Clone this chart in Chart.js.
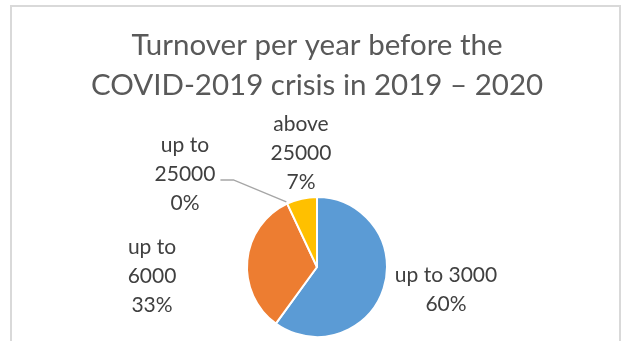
<!DOCTYPE html>
<html>
<head>
<meta charset="utf-8">
<script src="https://cdn.jsdelivr.net/npm/chart.js@4/dist/chart.umd.min.js"></script>
<style>
  body { margin: 0; background: #fff; }
  #marco {
    position: absolute; left: 10px; top: 5px; width: 611px; height: 400px;
    border: 2px solid #d9d9d9; box-sizing: border-box;
  }
  #grafico { position: absolute; left: 0; top: 0; }
</style>
</head>
<body>
<div id="marco"></div>
<canvas id="grafico" width="626" height="341"></canvas>
<script>
// Datos
const titulo = ["Turnover per year before the", "COVID-2019 crisis in 2019 \u2013 2020"];
const categorias = ["up to 3000", "up to 6000", "up to 25000", "above 25000"];
const valores = [60, 33, 0, 7];
const colores = ["#5B9BD5", "#ED7D31", "#A5A5A5", "#FFC000"];

const fuente = "Lato, 'Open Sans', sans-serif";

// Donde va cada etiqueta, en radios desde el centro del pastel
const posiciones = [
  { dx: 1.843, dy: 0.32, partir: false },
  { dx: -2.357, dy: 0.13, partir: true },
  { dx: -1.886, dy: -1.33, partir: true },
  { dx: -0.229, dy: -1.62, partir: true }
];

// Plugin para escribir las etiquetas de cada porcion
const etiquetas = {
  id: "etiquetas",
  afterDatasetsDraw(chart, args, opts) {
    const ctx = chart.ctx;
    const arcos = chart.getDatasetMeta(0).data;
    const total = valores.reduce((a, b) => a + b, 0);
    const alto = 29;

    ctx.save();
    ctx.font = "21px " + fuente;
    ctx.fillStyle = "#404040";
    ctx.textAlign = "center";
    ctx.textBaseline = "middle";

    arcos.forEach((arco, i) => {
      const { x, y, outerRadius, startAngle, endAngle } =
        arco.getProps(["x", "y", "outerRadius", "startAngle", "endAngle"], true);
      const pos = posiciones[i];
      const cx = x + pos.dx * outerRadius;
      const cy = y + pos.dy * outerRadius;

      let lineas;
      if (pos.partir) {
        const corte = categorias[i].lastIndexOf(" ");
        lineas = [categorias[i].slice(0, corte), categorias[i].slice(corte + 1)];
      } else {
        lineas = [categorias[i]];
      }
      lineas.push(Math.round(valores[i] / total * 100) + "%");

      lineas.forEach((txt, k) => {
        ctx.fillText(txt, cx, cy + (k - (lineas.length - 1) / 2) * alto);
      });

      // linea guia para la porcion que casi no se ve
      if (valores[i] / total < 0.01) {
        const k = 1;
        const ly = cy + (k - (lineas.length - 1) / 2) * alto + 6;
        const ancho = ctx.measureText(lineas[k]).width;
        const x0 = cx + ancho / 2 + 5;
        const medio = (startAngle + endAngle) / 2;
        ctx.beginPath();
        ctx.strokeStyle = "#A6A6A6";
        ctx.lineWidth = 1.5;
        ctx.moveTo(x0, ly);
        ctx.lineTo(x0 + 13, ly);
        ctx.lineTo(x + Math.cos(medio) * (outerRadius + 2), y + Math.sin(medio) * (outerRadius + 2));
        ctx.stroke();
      }
    });
    ctx.restore();
  }
};

new Chart(document.getElementById("grafico"), {
  type: "pie",
  data: {
    labels: categorias,
    datasets: [{
      data: valores,
      backgroundColor: colores,
      borderColor: "#ffffff",
      borderWidth: 2
    }]
  },
  options: {
    responsive: false,
    animation: false,
    devicePixelRatio: 1,
    layout: { padding: { top: 0, left: 8, right: 0, bottom: 3 } },
    plugins: {
      legend: { display: false },
      tooltip: { enabled: false },
      title: {
        display: true,
        text: titulo,
        color: "#595959",
        font: { family: fuente, size: 29.5, weight: "normal", lineHeight: "40px" },
        padding: { top: 25, bottom: 91 }
      }
    }
  },
  plugins: [etiquetas]
});
</script>
</body>
</html>
